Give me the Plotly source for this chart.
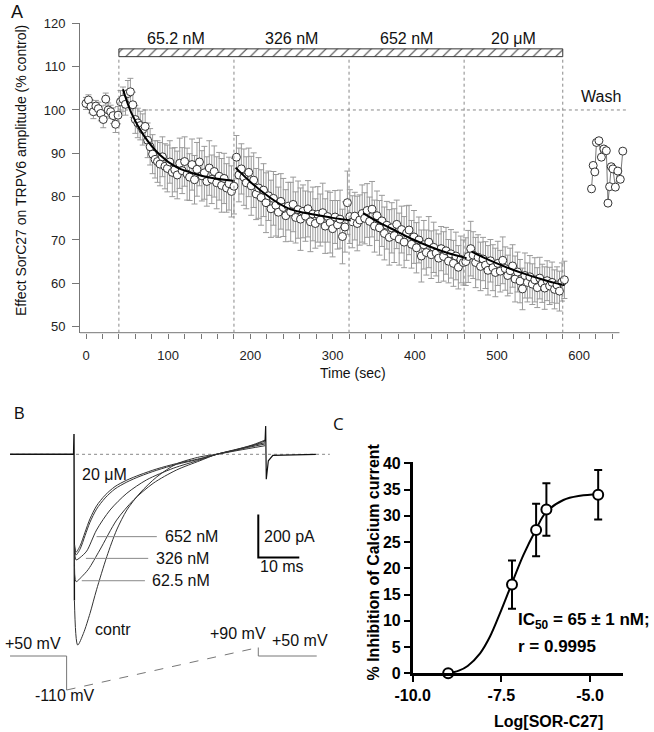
import plotly.graph_objects as go

W, H = 654, 732
FONT = "Liberation Sans, Arial, Helvetica, sans-serif"

# ======================= Panel A data =======================
switch_times = [40, 180, 320, 460, 580]
dose_labels = ["65.2 nM", "326 nM", "652 nM", "20 μM"]

t_baseline = list(range(0, 40, 3))
amp_baseline = [101.5, 102.3, 100.8, 99.6, 100.9, 100.3, 99.2, 97.8, 102.5, 100.0, 99.6, 98.7, 96.7, 98.8]
err_baseline = [1.4, 1.2, 1.5, 1.6, 1.3, 1.5, 1.7, 1.9, 1.4, 1.6, 1.5, 1.8, 1.9, 2.0]

t_dose1 = list(range(42, 181, 3))
amp_dose1 = [101.9, 102.5, 101.3, 103.8, 104.2, 101.2, 97.8, 97.0, 96.4, 95.5,
             96.2, 93.0, 91.5, 89.8, 88.6, 88.1, 87.5, 89.2, 87.0, 86.5,
             88.0, 85.6, 86.2, 85.0, 87.7, 86.0, 88.1, 85.2, 84.5, 87.4,
             83.9, 86.3, 88.0, 84.8, 85.5, 83.5, 86.6, 84.0, 85.8, 83.2,
             84.7, 82.6, 84.2, 82.0, 83.0, 81.2, 82.4]
err_dose1 = [2.6, 2.8, 2.5, 3.0, 3.1, 2.9, 3.2, 3.4, 3.3, 3.6,
             3.8, 4.0, 4.2, 4.5, 4.3, 4.8, 5.0, 4.6, 5.2, 5.4,
             4.9, 5.6, 5.1, 5.5, 5.8, 5.3, 5.7, 6.0, 5.4, 5.9,
             5.6, 6.2, 5.5, 5.8, 6.1, 5.7, 6.3, 5.6, 5.9, 6.0,
             5.5, 6.2, 5.8, 5.6, 6.1, 5.9, 6.4]

t_dose2 = list(range(183, 322, 3))
amp_dose2 = [89.1, 85.0, 86.4, 84.5, 83.2, 85.6, 82.5, 83.8, 80.6, 82.0,
             79.8, 81.5, 78.6, 80.2, 77.2, 79.6, 78.0, 76.4, 78.9, 77.5,
             75.6, 77.8, 76.5, 78.2, 75.2, 77.0, 74.8, 76.6, 75.5, 77.2,
             74.2, 76.0, 73.8, 75.9, 74.6, 76.3, 73.2, 75.4, 74.0, 72.6,
             75.3, 73.5, 74.8, 70.8, 73.0, 78.6, 75.4]
err_dose2 = [5.0, 6.2, 5.8, 6.5, 6.0, 5.6, 6.8, 6.3, 5.9, 7.0,
             6.4, 6.1, 6.9, 5.7, 6.6, 6.2, 7.1, 5.8, 6.4, 6.7,
             6.0, 5.5, 6.8, 6.3, 5.9, 6.6, 7.2, 6.1, 5.8, 6.5,
             6.9, 6.2, 5.7, 6.4, 6.0, 6.8, 6.3, 5.9, 7.0, 6.5,
             6.1, 5.6, 6.7, 6.3, 5.8, 7.3, 6.2]

t_dose3 = list(range(324, 460, 3))
amp_dose3 = [74.2, 75.5, 73.8, 74.6, 76.1, 75.0, 76.8, 74.3, 77.1, 73.2,
             75.6, 72.8, 74.4, 71.5, 73.4, 70.6, 72.8, 71.0, 73.6, 70.2,
             72.4, 69.5, 71.6, 72.3, 69.0, 70.7, 68.2, 70.0, 66.3, 68.9,
             67.1, 69.5, 66.6, 68.3, 67.0, 65.8, 68.0, 66.2, 67.5, 65.1,
             66.8, 64.6, 66.3, 63.7, 65.5, 64.8]
err_dose3 = [6.0, 5.5, 6.3, 5.8, 6.6, 5.9, 6.2, 5.6, 6.4, 6.0,
             5.7, 6.3, 5.9, 6.1, 5.5, 6.4, 5.8, 6.2, 5.6, 6.0,
             5.4, 5.9, 6.3, 5.7, 5.5, 6.1, 5.8, 5.3, 6.0, 5.6,
             5.2, 5.9, 5.5, 5.8, 5.3, 5.6, 5.1, 5.7, 5.4, 5.0,
             5.6, 5.3, 5.5, 5.0, 5.4, 5.2]

t_dose4 = list(range(462, 583, 3))
amp_dose4 = [65.0, 66.2, 68.0, 66.5, 64.8, 66.0, 63.9, 65.6, 64.2, 63.0,
             65.2, 63.6, 62.5, 64.6, 62.8, 65.3, 63.4, 61.8, 62.9, 64.0,
             61.0, 62.6, 60.5, 58.7, 61.8, 60.2, 61.5, 59.8, 60.8, 59.0,
             61.2, 60.0, 58.9, 60.6, 59.4, 60.2, 58.6, 59.6, 58.2, 60.3,
             60.8]
err_dose4 = [5.5, 6.0, 6.3, 5.4, 5.8, 5.2, 5.6, 5.0, 5.4, 5.7,
             4.9, 5.3, 5.6, 5.1, 4.8, 5.4, 5.0, 4.7, 5.2, 4.9,
             5.3, 4.6, 5.0, 4.8, 5.2, 4.5, 4.9, 4.7, 5.1, 4.6,
             4.8, 4.4, 4.9, 4.6, 4.3, 4.7, 4.5, 4.2, 4.6, 4.4,
             4.3]

fit1_t = [45, 55, 70, 90, 110, 130, 150, 181]
fit1_v = [104.8, 99.4, 94.2, 89.6, 86.8, 85.4, 84.4, 83.6]
fit2_t = [182, 200, 214, 230, 246, 262, 279, 300, 322]
fit2_v = [86.7, 83.4, 81.2, 79.0, 77.3, 76.4, 75.8, 75.1, 74.5]
fit3_t = [337, 357, 378, 398, 418, 440, 463]
fit3_v = [76.2, 74.0, 72.0, 70.1, 68.5, 67.0, 65.8]
fit4_t = [469, 490, 510, 530, 550, 570, 582]
fit4_v = [67.3, 65.4, 63.8, 62.4, 61.2, 60.1, 59.6]

wash_t = [615, 617, 619, 621, 624, 627, 630, 633, 635, 637, 639, 641, 644, 647, 650, 653]
wash_v = [81.8, 87.2, 85.7, 92.5, 92.9, 89.1, 91.0, 90.6, 78.5, 82.3, 86.9, 86.4, 82.2, 85.9, 84.0, 90.5]

# ======================= Panel B data (ms, pA, mV) =======================
onset_t = [-15.6, -0.1, 0.0, 0.1]
onset_i = [0, 0, 94, -680]

uM20_t = [0.15, 0.5, 1.5, 2.7, 3.9, 5.5, 7.6, 10.0, 12.9, 16.1, 20.2, 25.0, 30.7, 34.8, 38.9, 43.7, 46.6]
uM20_i = [-420, -455, -425, -362, -300, -240, -190, -150, -120, -95, -68, -43, -20, 0, 18, 45, 66]
nM652_t = [0.15, 0.5, 1.5, 2.7, 3.9, 5.5, 7.6, 10.0, 12.9, 16.1, 20.2, 25.0, 30.7, 34.8, 38.9, 43.7, 46.6]
nM652_i = [-430, -468, -440, -378, -316, -255, -203, -161, -129, -102, -74, -47, -22, 0, 17, 42, 62]
nM326_t = [0.15, 0.5, 1.5, 3.1, 5.5, 8.8, 12.9, 17.7, 24.2, 30.7, 34.8, 40.0, 46.6]
nM326_i = [-440, -491, -480, -450, -352, -259, -181, -119, -65, -26, 0, 25, 54]
nM62_t = [0.15, 0.5, 1.9, 3.5, 6.3, 10.4, 14.5, 19.3, 25.0, 30.7, 34.8, 40.0, 46.6]
nM62_i = [-460, -592, -569, -535, -445, -306, -213, -135, -73, -30, 0, 22, 48]
contr_t = [0.1, 0.9, 2.3, 3.9, 5.5, 8.0, 10.4, 12.9, 16.1, 20.2, 25.0, 30.7, 34.8, 40.0, 46.6]
contr_i = [-680, -887, -833, -740, -630, -476, -352, -259, -180, -105, -45, -12, 0, 18, 40]

offset_t = [46.6, 46.75, 46.9, 47.4, 48.5, 59.0]
offset_i = [60, 132, -116, -30, -5, 0]

hold_t = [-15.6, -1.8, -1.8, None, 44.95, 44.95, 59.2]
hold_mv = [50, 50, -110, None, 90, 50, 50]
ramp_t = [-1.8, 44.95]
ramp_mv = [-110, 90]

scale_pA = 200
scale_ms = 10

# ======================= Panel C data =======================
log_conc = [-9.0, -7.2, -6.52, -6.23, -4.77]
inhib = [0.0, 16.9, 27.3, 31.2, 34.0]
inhib_err = [0.0, 4.6, 5.0, 5.0, 4.7]
fitC_x = [-9.0, -8.7, -8.45, -8.1, -7.82, -7.54, -7.21, -6.88, -6.53, -6.25, -5.75, -5.28, -4.77]
fitC_y = [0.0, 0.5, 1.4, 3.8, 7.0, 11.4, 17.0, 22.5, 27.3, 30.6, 33.0, 33.8, 34.1]


def fx(px):
    return px / W


def fy(py):
    return 1 - py / H


fig = go.Figure()

# ---------------- Panel A ----------------
t_all = t_baseline + t_dose1 + t_dose2 + t_dose3 + t_dose4
amp_all = amp_baseline + amp_dose1 + amp_dose2 + amp_dose3 + amp_dose4
err_all = err_baseline + err_dose1 + err_dose2 + err_dose3 + err_dose4

bar_y, bar_h = 113.2, 1.8
fig.add_trace(go.Bar(
    x=[switch_times[-1] - switch_times[0]], base=[switch_times[0]], y=[bar_y], width=[bar_h],
    orientation="h", xaxis="x", yaxis="y",
    marker=dict(color="white", line=dict(color="#333", width=1),
                pattern=dict(shape="/", fgcolor="#333", bgcolor="white", size=8,
                             solidity=0.12, fillmode="replace")),
    hoverinfo="skip"))

fig.add_trace(go.Scatter(
    x=t_all, y=amp_all, mode="markers", xaxis="x", yaxis="y",
    error_y=dict(type="data", array=err_all, color="#9a9a9a", thickness=1, width=3),
    marker=dict(size=8, color="white", line=dict(color="#333", width=1))))

for ft, fv in [(fit1_t, fit1_v), (fit2_t, fit2_v), (fit3_t, fit3_v), (fit4_t, fit4_v)]:
    fig.add_trace(go.Scatter(x=ft, y=fv, mode="lines", xaxis="x", yaxis="y",
                             line=dict(color="black", width=2, shape="spline")))

fig.add_trace(go.Scatter(
    x=wash_t, y=wash_v, mode="lines+markers", xaxis="x", yaxis="y", cliponaxis=False,
    line=dict(color="#555", width=0.8),
    marker=dict(size=8, color="white", line=dict(color="#333", width=1))))

# ---------------- Panel B ----------------
fig.add_trace(go.Scatter(x=onset_t, y=onset_i, mode="lines", xaxis="x2", yaxis="y2",
                         line=dict(color="#111", width=1.4)))
for tt, ii in [(contr_t, contr_i), (nM62_t, nM62_i), (nM326_t, nM326_i),
               (nM652_t, nM652_i), (uM20_t, uM20_i)]:
    fig.add_trace(go.Scatter(x=tt, y=ii, mode="lines", xaxis="x2", yaxis="y2", cliponaxis=False,
                             line=dict(color="#333", width=1, shape="spline", smoothing=0.8)))
fig.add_trace(go.Scatter(x=offset_t, y=offset_i, mode="lines", xaxis="x2", yaxis="y2",
                         line=dict(color="#111", width=1.2)))

# leader lines to labels
lead_t = [5.5, 20.2, None, 2.9, 18.1, None, 1.9, 17.3]
lead_i = [-383, -383, None, -484, -484, None, -588, -588]
fig.add_trace(go.Scatter(x=lead_t, y=lead_i, mode="lines", xaxis="x2", yaxis="y2",
                         line=dict(color="#888", width=1)))

# scale bar
sb_t0, sb_i0 = 44.95, -480
fig.add_trace(go.Scatter(x=[sb_t0, sb_t0, sb_t0 + scale_ms],
                         y=[sb_i0 + scale_pA, sb_i0, sb_i0],
                         mode="lines", xaxis="x2", yaxis="y2",
                         line=dict(color="black", width=2)))

# voltage protocol
fig.add_trace(go.Scatter(x=hold_t, y=hold_mv, mode="lines", xaxis="x2", yaxis="y3",
                         line=dict(color="#777", width=1)))
fig.add_trace(go.Scatter(x=ramp_t, y=ramp_mv, mode="lines", xaxis="x2", yaxis="y3",
                         line=dict(color="#777", width=1, dash="dash")))

# ---------------- Panel C ----------------
fig.add_trace(go.Scatter(x=fitC_x, y=fitC_y, mode="lines", xaxis="x3", yaxis="y4",
                         line=dict(color="black", width=2, shape="spline")))
fig.add_trace(go.Scatter(
    x=log_conc, y=inhib, mode="markers", xaxis="x3", yaxis="y4", cliponaxis=False,
    error_y=dict(type="data", array=inhib_err, color="black", thickness=2, width=4),
    marker=dict(size=10, color="white", line=dict(color="black", width=2))))

# ---------------- shapes ----------------
shapes = []
shapes.append(dict(type="line", xref="x", yref="y domain", x0=-7.3, x1=649, y0=0, y1=0,
                   line=dict(color="#777", width=1)))
for st in switch_times:
    shapes.append(dict(type="line", xref="x", yref="y", x0=st, x1=st, y0=48.6,
                       y1=bar_y - bar_h / 2, line=dict(color="#888", width=1, dash="dot")))
shapes.append(dict(type="line", xref="x", yref="y", x0=switch_times[0], x1=659, y0=100, y1=100,
                   line=dict(color="#888", width=1, dash="dot")))
shapes.append(dict(type="line", xref="x2", yref="y2", x0=-15.6, x1=62.4, y0=0, y1=0,
                   line=dict(color="#888", width=1, dash="dot"), layer="below"))

# ---------------- annotations ----------------
ann = []
txt = dict(family=FONT, size=16, color="#111")


def note(**kw):
    d = dict(showarrow=False, xanchor="center", yanchor="middle")
    d.update(kw)
    ann.append(d)


for i, lab in enumerate(dose_labels):
    note(x=(switch_times[i] + switch_times[i + 1]) / 2, y=116.6, xref="x", yref="y",
         text=lab, font=txt)
note(x=627, y=103.2, xref="x", yref="y", text="Wash", font=txt)
note(x=fx(21), y=fy(171), xref="paper", yref="paper", textangle=-90,
     text="Effect SorC27 on TRPV6 amplitude (% control)",
     font=dict(family=FONT, size=14, color="#111"))
note(x=fx(352.7), y=fy(372.7), xref="paper", yref="paper", text="Time (sec)",
     font=dict(family=FONT, size=14, color="#111"))
note(x=fx(16.5), y=fy(11.7), xref="paper", yref="paper", text="A",
     font=dict(family=FONT, size=18, color="#111"))
note(x=fx(19.3), y=fy(413.5), xref="paper", yref="paper", text="B",
     font=dict(family=FONT, size=16, color="#111"))
note(x=fx(338.3), y=fy(423.5), xref="paper", yref="paper", text="C",
     font=dict(family="Open Sans, DejaVu Sans, sans-serif", size=17, color="#111"))

# panel B labels
for x, y, t in [(1.5, -96, "20 μM"), (21.8, -383, "652 nM"), (19.5, -484, "326 nM"),
                (18.5, -588, "62.5 nM"), (4.6, -817, "contr"), (45.8, -383, "200 pA"),
                (44.95, -523, "10 ms")]:
    note(x=x, y=y, xref="x2", yref="y2", text=t, xanchor="left", font=txt)
for x, y, t in [(-10.1, 111, "+50 mV"), (-2.2, -133.5, "-110 mV"),
                (39.9, 156.8, "+90 mV"), (55.1, 125.3, "+50 mV")]:
    note(x=x, y=y, xref="x2", yref="y3", text=t, font=txt)

# panel C labels
bold = dict(family=FONT, size=16, color="black", weight="bold")
note(x=fx(373), y=fy(562.5), xref="paper", yref="paper", textangle=-90,
     text="% Inhibition of Calcium current", font=bold)
note(x=fx(548), y=fy(721), xref="paper", yref="paper", text="Log[SOR-C27]", font=bold)
note(x=-7.09, y=10.0, xref="x3", yref="y4", xanchor="left",
     text="IC<sub>50</sub> = 65 ± 1 nM;",
     font=dict(family=FONT, size=17, color="black", weight="bold"))
note(x=-7.09, y=5.2, xref="x3", yref="y4", xanchor="left", text="r = 0.9995",
     font=dict(family=FONT, size=17, color="black", weight="bold"))

fig.update_layout(
    width=W, height=H, margin=dict(l=0, r=0, t=0, b=0, pad=0, autoexpand=False),
    paper_bgcolor="white", plot_bgcolor="rgba(0,0,0,0)", showlegend=False,
    font=dict(family=FONT, color="#111"),
    xaxis=dict(domain=[fx(80), fx(627.7)], range=[-7.3, 659], anchor="y", automargin=False,
               showline=False, showgrid=False, zeroline=False,
               tickmode="linear", tick0=0, dtick=100, ticks="outside", ticklen=5,
               tickcolor="#777", tickfont=dict(size=13, color="#222"), ticklabelstandoff=6,
               minor=dict(tick0=0, dtick=20, ticks="outside", ticklen=5, tickcolor="#777")),
    yaxis=dict(domain=[fy(332.7), fy(23.3)], range=[48.6, 120], anchor="x", automargin=False,
               showline=True, linecolor="#777", linewidth=1, showgrid=False, zeroline=False,
               tickmode="linear", tick0=0, dtick=10, ticks="outside", ticklen=7,
               tickcolor="#777", tickfont=dict(size=13, color="#222"), ticklabelstandoff=4),
    xaxis2=dict(domain=[0, fx(330)], range=[-18.05, 62.44], anchor="y2", visible=False,
                automargin=False),
    yaxis2=dict(domain=[fy(650), fy(415)], range=[-910.2, 182.8], anchor="x2", visible=False,
                automargin=False),
    yaxis3=dict(domain=[fy(710), fy(625)], range=[-204.1, 195.9], anchor="x2", visible=False,
                automargin=False),
    xaxis3=dict(domain=[fx(412.7), fx(623)], range=[-10, -4.07], anchor="y4", automargin=False,
                showline=True, linecolor="black", linewidth=2.5, showgrid=False, zeroline=False,
                tickmode="array", tickvals=[-10, -7.5, -5.0], ticktext=["-10.0", "-7.5", "-5.0"],
                ticks="outside", ticklen=6, tickwidth=2, tickcolor="black",
                tickfont=dict(size=16, color="black", weight="bold")),
    yaxis4=dict(domain=[fy(673.3), fy(461.7)], range=[0, 40.3], anchor="x3", automargin=False,
                showline=True, linecolor="black", linewidth=2.5, showgrid=False, zeroline=False,
                tickmode="linear", tick0=0, dtick=5, ticks="outside", ticklen=6, tickwidth=2,
                tickcolor="black", tickfont=dict(size=16, color="black", weight="bold")),
    shapes=shapes, annotations=ann,
)

fig.write_html("out.html", config={"displayModeBar": False},
               post_script="document.body.style.margin='0';document.body.style.padding='0';")
